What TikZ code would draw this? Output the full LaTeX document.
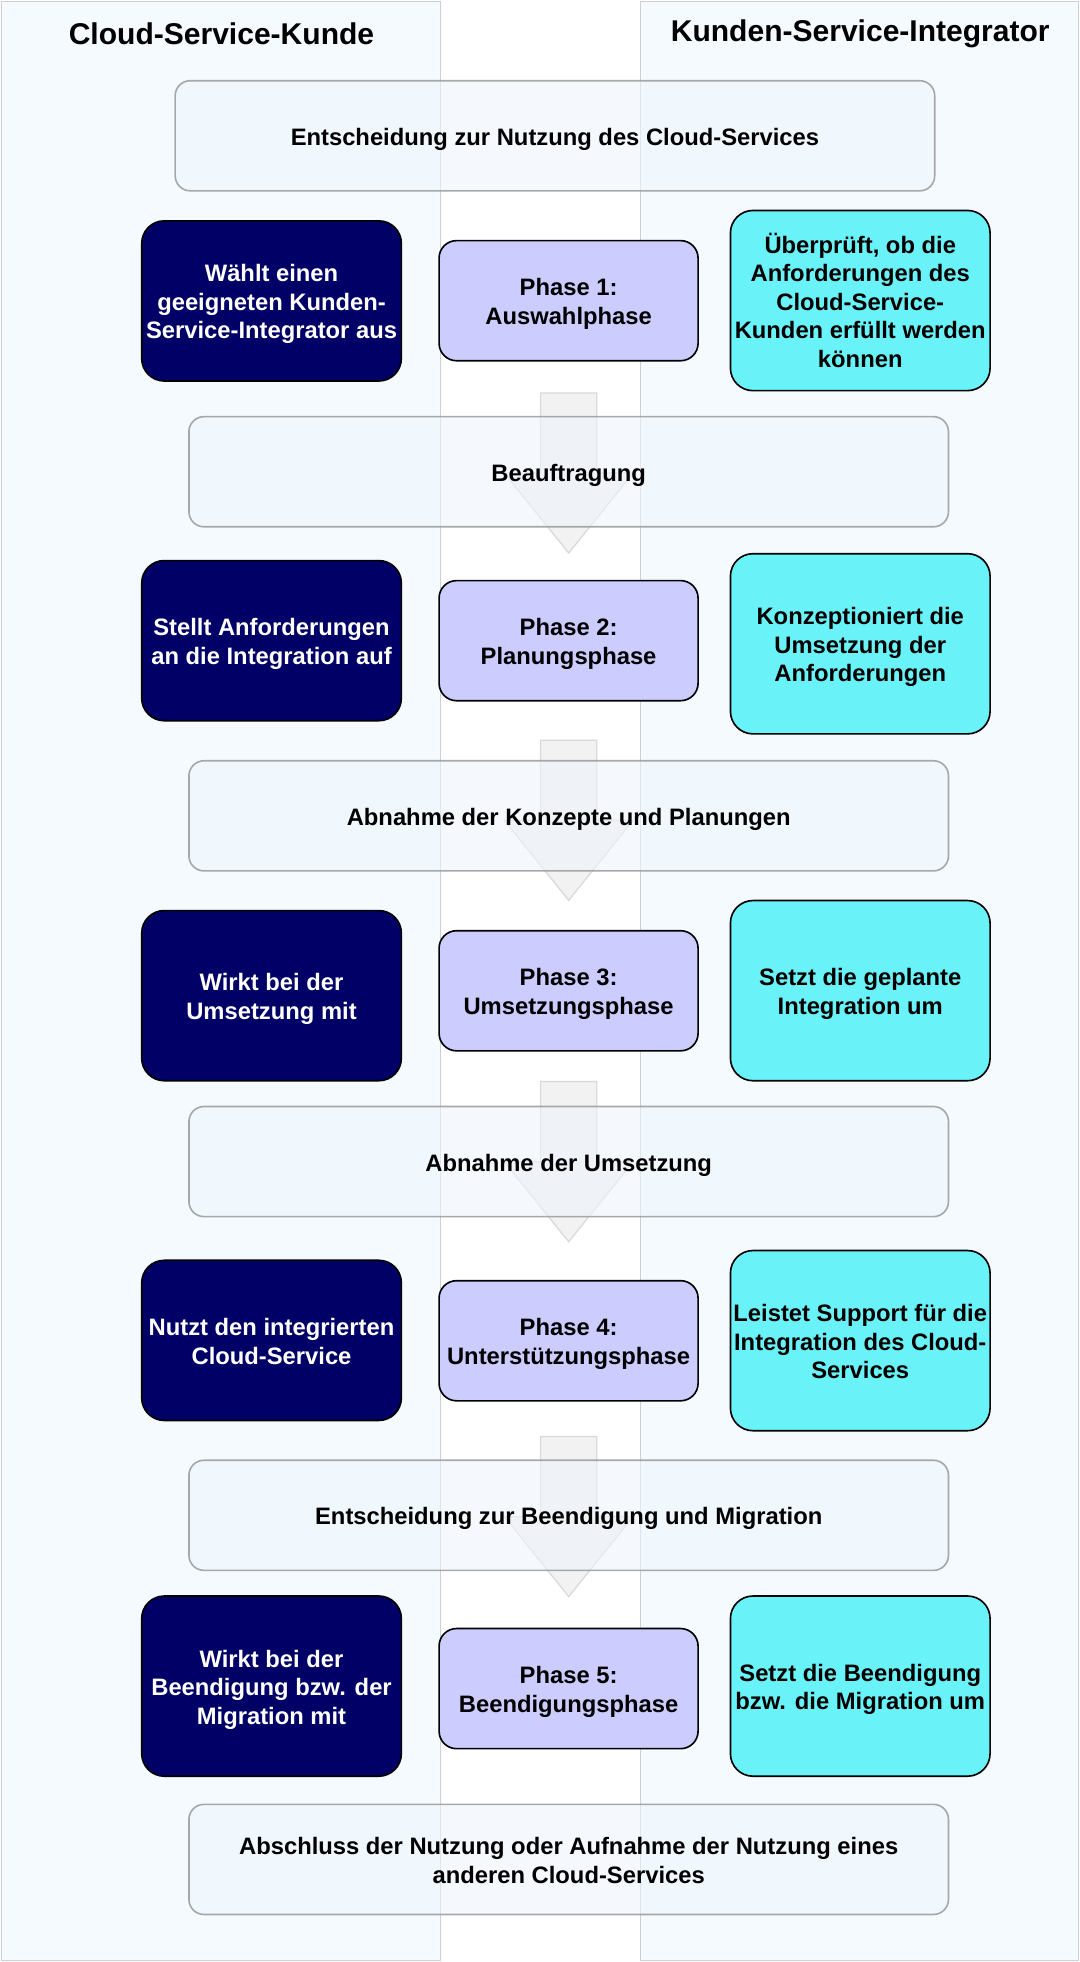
\documentclass[tikz,border=0pt]{standalone}
\usepackage{fontspec}
\setmainfont{Liberation Sans}
\definecolor{lanefill}{HTML}{F5FAFF}
\definecolor{lanegray}{HTML}{CFCFCF}
\definecolor{navybox}{HTML}{000066}
\definecolor{cyanbox}{HTML}{69F3F9}
\definecolor{phasefill}{HTML}{CCCCFF}
\definecolor{bandfill}{HTML}{EEF5FC}
\definecolor{bandline}{HTML}{9A9A9A}
\definecolor{arrowfill}{HTML}{F2F2F2}
\definecolor{arrowline}{HTML}{D9D9D9}
\newcommand\lowtxt[1]{\raisebox{-3pt}[\height][\depth]{\begin{tabular}{@{}c@{}}#1\end{tabular}}}
\begin{document}
\begin{tikzpicture}[x=1pt,y=-1pt,
  lane/.style={draw=lanegray, fill=lanefill, line width=1pt},
  cbox/.style={rectangle, rounded corners=18pt, draw=black, line width=1.3pt,
    inner sep=0pt, font=\bfseries\fontsize{19}{22.8}\selectfont,
    minimum width=207.5pt},
  custbox/.style={cbox, fill=navybox, text=white},
  intbox/.style={cbox, fill=cyanbox, text=black, minimum height=144pt},
  phasebox/.style={cbox, rounded corners=14pt, fill=phasefill, minimum width=207pt, minimum height=96pt},
  band/.style={rectangle, rounded corners=12pt, draw=bandline, draw opacity=0.85,
    fill=bandfill, fill opacity=0.6, text opacity=1, line width=1.3pt,
    minimum width=607pt, minimum height=88pt, inner sep=0pt,
    font=\bfseries\fontsize{19}{22.8}\selectfont},
  blockarrow/.style={draw=arrowline, fill=arrowfill, line width=1pt},
  header/.style={font=\bfseries\fontsize{24}{28}\selectfont, inner sep=0pt}]
\useasboundingbox (0,0) rectangle (863,1568);
% lanes
\path[lane] (1,1) rectangle (352,1567);
\path[lane] (512,1) rectangle (862,1567);
\node[header] (hkunde) at (177,27) {Cloud-Service-Kunde};
\node[header] (hint) at (687.5,27) {Kunden-Service-Integrator};
% block arrows
\foreach \t in {314,591.5,864.4,1148}{
  \path[blockarrow] (432,\t) -- (477,\t) -- (477,{\t+64}) -- (506,{\t+64})
    -- (454.5,{\t+128}) -- (403,{\t+64}) -- (432,{\t+64}) -- cycle;
}
% bands
\node[band] (b0) at (443.5,108.5) {\lowtxt{Entscheidung zur Nutzung des Cloud-Services}};
\node[band] (b1) at (454.5,377) {\lowtxt{Beauftragung}};
\node[band] (b2) at (454.5,652) {\lowtxt{Abnahme der Konzepte und Planungen}};
\node[band] (b3) at (454.5,928.3) {\lowtxt{Abnahme der Umsetzung}};
\node[band] (b4) at (454.5,1211) {\lowtxt{Entscheidung zur Beendigung und Migration}};
\node[band] (b5) at (454.5,1486) {\lowtxt{Abschluss der Nutzung oder Aufnahme der Nutzung eines\\anderen Cloud-Services}};
% row 1
\node[custbox, minimum height=128pt] (k1) at (217,240.5) {\lowtxt{Wählt einen\\geeigneten Kunden-\\Service-Integrator aus}};
\node[phasebox] (p1) at (454.4,240.3) {\lowtxt{Phase 1:\\Auswahlphase}};
\node[intbox] (i1) at (687.5,240.2) {\lowtxt{Überprüft, ob die\\Anforderungen des\\Cloud-Service-\\Kunden erfüllt werden\\können}};
% row 2
\node[custbox, minimum height=128pt] (k2) at (217,512) {\lowtxt{Stellt Anforderungen\\an die Integration auf}};
\node[phasebox] (p2) at (454.4,512) {\lowtxt{Phase 2:\\Planungsphase}};
\node[intbox] (i2) at (687.5,514.5) {\lowtxt{Konzeptioniert die\\Umsetzung der\\Anforderungen}};
% row 3
\node[custbox, minimum height=136pt] (k3) at (217,795.7) {\lowtxt{Wirkt bei der\\Umsetzung mit}};
\node[phasebox] (p3) at (454.4,791.8) {\lowtxt{Phase 3:\\Umsetzungsphase}};
\node[intbox] (i3) at (687.5,791.7) {\lowtxt{Setzt die geplante\\Integration um}};
% row 4
\node[custbox, minimum height=128pt] (k4) at (217,1071.2) {\lowtxt{Nutzt den integrierten\\Cloud-Service}};
\node[phasebox] (p4) at (454.4,1071.5) {\lowtxt{Phase 4:\\Unterstützungsphase}};
\node[intbox] (i4) at (687.5,1071.4) {\lowtxt{Leistet Support für die\\Integration des Cloud-\\Services}};
% row 5
\node[custbox, minimum height=144pt] (k5) at (217,1347.5) {\lowtxt{Wirkt bei der\\Beendigung bzw. der\\Migration mit}};
\node[phasebox] (p5) at (454.4,1349.5) {\lowtxt{Phase 5:\\Beendigungsphase}};
\node[intbox] (i5) at (687.5,1347.5) {\lowtxt{Setzt die Beendigung\\bzw. die Migration um}};
\end{tikzpicture}
\end{document}
